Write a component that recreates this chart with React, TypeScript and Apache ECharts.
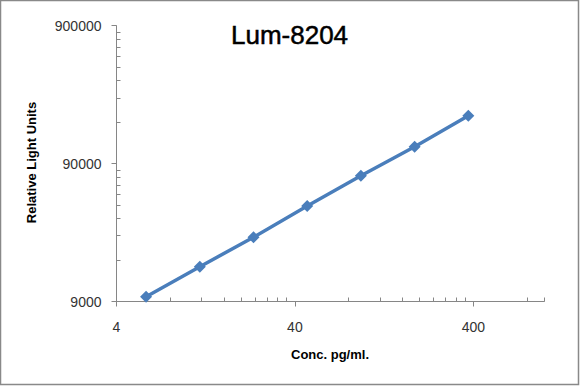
import React, { useEffect, useRef } from "react";
import * as echarts from "echarts";

const TITLE = "Lum-8204";
const X_TITLE = "Conc. pg/ml.";
const Y_TITLE = "Relative Light Units";

const concentrations = [5.86, 11.72, 23.44, 46.88, 93.75, 187.5, 375];
const rlu = [9750, 16100, 26300, 44300, 73500, 119400, 200300];

const xTickLabels = [4, 40, 400];
const yTickLabels = [9000, 90000, 900000];
const X_MIN = 4;
const X_MAX = 1000;
const Y_MIN = 9000;
const Y_MAX = 900000;
const MINOR_MULTIPLES = [2, 3, 4, 5, 6, 7, 8, 9];

const tx = (v: number) => Math.log10(v / X_MIN);
const ty = (v: number) => Math.log10(v / Y_MIN);

const FONT = "'Liberation Sans', Arial, sans-serif";
const AXIS_GRAY = "#868686";

function minorTicks(majors: number[], lo: number, hi: number, t: (v: number) => number) {
  const out: number[] = [];
  majors.forEach((m) => {
    MINOR_MULTIPLES.forEach((k) => {
      const v = m * k;
      if (v > lo && v < hi) out.push(t(v));
    });
  });
  out.push(t(hi));
  return out;
}

export default function App() {
  const ref = useRef<HTMLDivElement>(null);
  useEffect(() => {
    if (!ref.current) return;
    const chart = echarts.init(ref.current, null, { renderer: "svg" });
    const xMaxT = tx(X_MAX);
    const yMaxT = ty(Y_MAX);
    const xMajor = xTickLabels.map(tx);
    const yMajor = yTickLabels.map(ty);
    const xMinor = minorTicks(xTickLabels, X_MIN, X_MAX, tx);
    const yMinor = minorTicks(yTickLabels, Y_MIN, Y_MAX, ty).filter((v) => v < yMaxT);

    const baseX = {
      type: "value",
      min: 0,
      max: xMaxT,
      position: "bottom",
      splitLine: { show: false },
    };
    const baseY = {
      type: "value",
      min: 0,
      max: yMaxT,
      interval: 1,
      position: "left",
      splitLine: { show: false },
    };

    chart.setOption({
      animation: false,
      backgroundColor: "#ffffff",
      grid: { left: 116.5, right: 35.7, top: 25.7, bottom: 84.5, containLabel: false },
      xAxis: [
        {
          ...baseX,
          axisLine: { show: true, lineStyle: { color: AXIS_GRAY, width: 1 } },
          axisTick: { show: true, inside: false, length: 5, customValues: xMajor, lineStyle: { color: AXIS_GRAY } },
          axisLabel: {
            show: true,
            customValues: xMajor,
            margin: 18,
            fontFamily: FONT,
            fontSize: 14,
            color: "#333333",
            formatter: (v: number) => String(Math.round(X_MIN * Math.pow(10, v))),
          },
        },
        {
          ...baseX,
          axisLine: { show: false },
          axisTick: { show: true, inside: true, length: 4, customValues: xMinor, lineStyle: { color: AXIS_GRAY } },
          axisLabel: { show: false },
        },
      ],
      yAxis: [
        {
          ...baseY,
          axisLine: { show: true, lineStyle: { color: AXIS_GRAY, width: 1 } },
          axisTick: { show: true, inside: false, length: 5, customValues: yMajor, lineStyle: { color: AXIS_GRAY } },
          axisLabel: {
            show: true,
            customValues: yMajor,
            margin: 15,
            fontFamily: FONT,
            fontSize: 14,
            color: "#333333",
            formatter: (v: number) => String(Math.round(Y_MIN * Math.pow(10, v))),
          },
        },
        {
          ...baseY,
          axisLine: { show: false },
          axisTick: { show: true, inside: true, length: 4, customValues: yMinor, lineStyle: { color: AXIS_GRAY } },
          axisLabel: { show: false },
        },
      ],
      series: [
        {
          type: "line",
          xAxisIndex: 0,
          yAxisIndex: 0,
          data: concentrations.map((c, i) => [tx(c), ty(rlu[i])]),
          symbol: "diamond",
          symbolSize: 12,
          lineStyle: { color: "#4a7ebb", width: 3.5 },
          itemStyle: { color: "#4a7ebb" },
          z: 5,
        },
      ],
      graphic: [
        {
          type: "rect",
          shape: { x: 0.5, y: 0.5, width: 578, height: 384 },
          style: { fill: "none", stroke: "#898989", lineWidth: 1.5 },
          silent: true,
        },
        {
          type: "text",
          x: 289.5,
          y: 35,
          style: {
            text: TITLE,
            fontFamily: FONT,
            fontSize: 26,
            fontWeight: "normal",
            fill: "#000000",
            stroke: "#000000",
            lineWidth: 0.5,
            textAlign: "center",
            textVerticalAlign: "middle",
          },
        },
        {
          type: "text",
          x: 330,
          y: 354,
          style: {
            text: X_TITLE,
            fontFamily: FONT,
            fontSize: 13,
            fontWeight: "bold",
            fill: "#000000",
            textAlign: "center",
            textVerticalAlign: "middle",
          },
        },
        {
          type: "text",
          x: 31.7,
          y: 162.5,
          rotation: Math.PI / 2,
          style: {
            text: Y_TITLE,
            fontFamily: FONT,
            fontSize: 13,
            fontWeight: "bold",
            fill: "#000000",
            textAlign: "center",
            textVerticalAlign: "middle",
          },
        },
      ],
    });
    return () => chart.dispose();
  }, []);
  return (
    <div
      ref={ref}
      style={{ position: "absolute", left: 0, top: 0, width: 580, height: 386 }}
    />
  );
}
